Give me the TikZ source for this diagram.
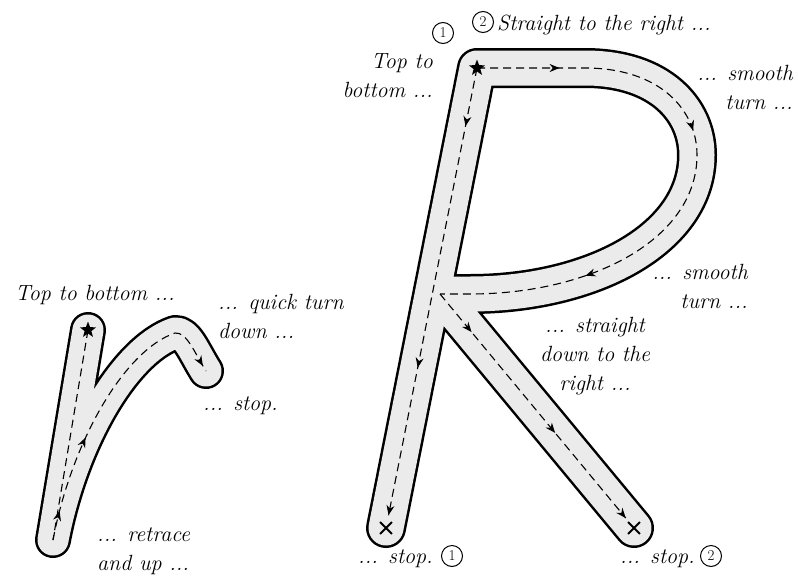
\documentclass[tikz,border=0pt]{standalone}
\usetikzlibrary{arrows.meta,decorations.markings,shapes.geometric,shapes.misc,calc}
\definecolor{lane}{HTML}{EBEBEB}

\begin{document}
\begin{tikzpicture}[x=1pt,y=-1pt,every node/.style={font=\fontsize{22}{29}\selectfont\itshape,inner sep=0pt},
  rim/.style={line width=#1,line cap=round,line join=round},
  guide/.style={dash pattern=on 8pt off 5pt,line width=1.1pt},
  tipat/.style={postaction={decorate,decoration={markings,mark=at position #1 with {\arrow{Stealth[length=10pt,width=8pt]}}}}},
  startmark/.style={star,star points=5,star point ratio=2.4,fill=black,minimum size=17pt},
  stopmark/.style={cross out,draw,line width=1.8pt,minimum size=10pt},
  num/.style={circle,draw,line width=1pt,minimum size=21pt,font=\fontsize{15}{15}\selectfont}]
\useasboundingbox (0,0) rectangle (798,581);
% small r
\coordinate (rtop) at (88,330);
\coordinate (rbot) at (53,540);
\coordinate (rpeak) at (175,333);
\coordinate (rend) at (206,371);
\foreach \w/\c in {36pt/black,31pt/lane}
  \draw[rim=\w,\c] (rtop) -- (rbot) .. controls (72,440) and (125,350) .. (rpeak) .. controls (187,332) and (194,352) .. (rend);
\draw[guide] (rtop) -- (rbot);
\draw[guide,tipat=0.1,tipat=0.36,tipat=0.98] (rbot) .. controls (72,440) and (125,350) .. (rpeak) .. controls (187,332) and (194,352) .. (rend);
\node[startmark] (rstart) at (rtop) {};
% capital R
\coordinate (Rtop) at (477,68);
\coordinate (Rbot) at (386,528);
\coordinate (Rbar) at (585,68);
\coordinate (Rside) at (697,155);
\coordinate (Rloop) at (470,294);
\coordinate (Rjoin) at (440,294);
\coordinate (Rfoot) at (634,528);
\foreach \w/\c in {40pt/black,35pt/lane}
  \draw[rim=\w,\c] (Rbot) -- (Rtop) -- (Rbar) .. controls (660,68) and (697,110) .. (Rside) .. controls (697,240) and (590,294) .. (Rloop) -- (Rjoin) -- (Rfoot);
\draw[guide,tipat=0.13,tipat=0.67,tipat=1] (Rtop) -- ($(Rbot)!13pt!(Rtop)$);
\draw[guide,tipat=0.14,tipat=0.41,tipat=0.75] (Rtop) -- (Rbar) .. controls (660,68) and (697,110) .. (Rside) .. controls (697,240) and (590,294) .. (Rloop) -- (Rjoin);
\draw[guide,tipat=0.17,tipat=0.62,tipat=1] (Rjoin) -- ($(Rfoot)!13pt!(Rjoin)$);
\node[startmark] (Rstart) at (Rtop) {};
\node[stopmark] (Rstop1) at (Rbot) {};
\node[stopmark] (Rstop2) at (Rfoot) {};
% labels
\node[anchor=base west] (rA) at (15,300) {Top to bottom ...};
\node[anchor=base west,align=left] (rB) at (218,338) {... quick turn\\down ...};
\node[anchor=base west] (rC) at (203,410) {... stop.};
\node[anchor=base west,align=left] (rD) at (97,570) {... retrace\\and up ...};
\node[anchor=base east,align=right] (RA) at (433,97) {Top to\\bottom ...};
\node[num] (n1) at (443,33) {1};
\node[num] (n2) at (483,22) {2};
\node[anchor=base west] (RB) at (497,30) {Straight to the right ...};
\node[anchor=base east,align=right] (RC) at (793,109) {... smooth\\turn ...};
\node[anchor=base east,align=right] (RD) at (748,308) {... smooth\\turn ...};
\node[anchor=base,align=center] (RE) at (595,390) {... straight\\down to the\\right ...};
\node[anchor=base east] (RF) at (433,563) {... stop.};
\node[num] (n3) at (452,556) {1};
\node[anchor=base east] (RG) at (695,563) {... stop.};
\node[num] (n4) at (711,556) {2};
\end{tikzpicture}
\end{document}
